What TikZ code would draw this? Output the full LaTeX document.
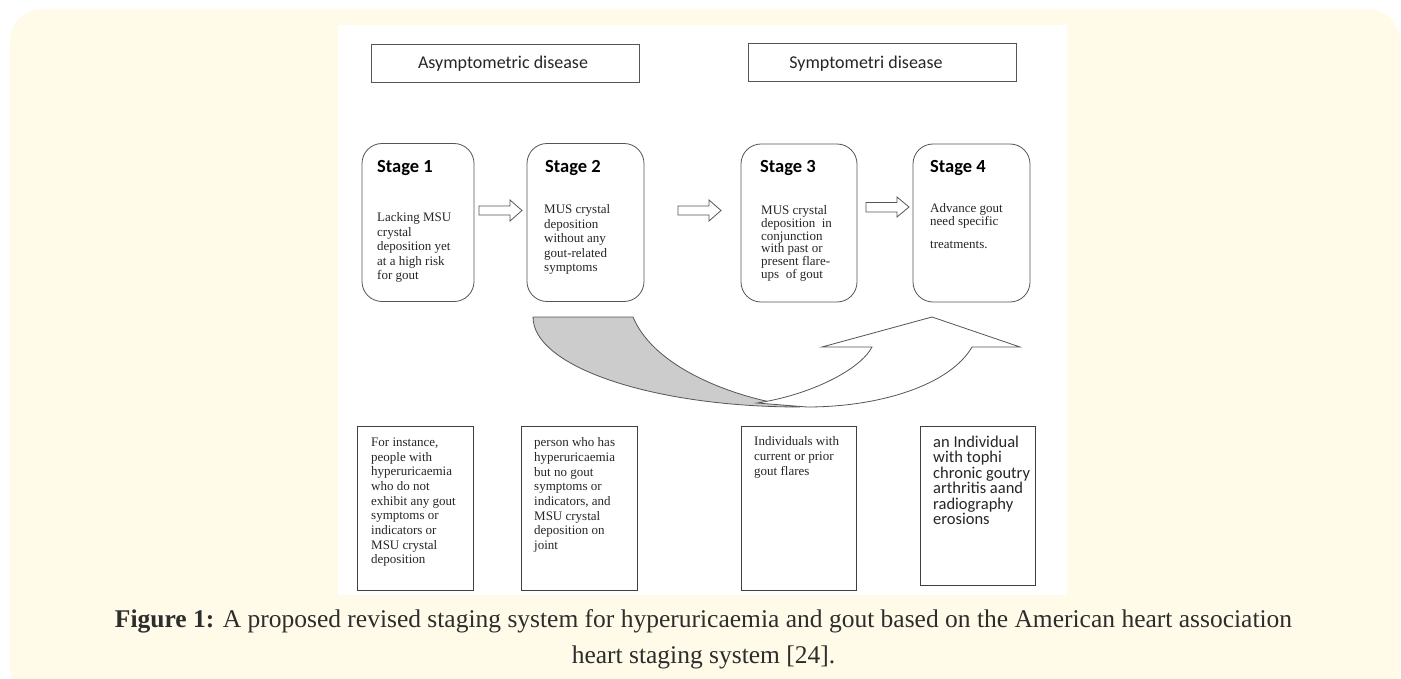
\documentclass[tikz,border=0pt]{standalone}
\usepackage{fontspec}
\setmainfont{Liberation Serif}
\newfontfamily\carl{Carlito}
\definecolor{cream}{RGB}{255,251,232}
\definecolor{edge}{RGB}{85,85,85}
\definecolor{capt}{RGB}{45,45,45}
\definecolor{shade}{RGB}{204,204,204}
\begin{document}
\begin{tikzpicture}[x=1pt,y=-1pt,
  hdrbox/.style={draw=edge, line width=0.9pt, fill=white, minimum width=268, minimum height=38, inner sep=0},
  stagebox/.style={draw=edge, line width=0.8pt, rounded corners=20pt, minimum height=158, inner sep=0},
  notebox/.style={draw=black!75, line width=1pt, minimum width=116, inner sep=0},
  hdrtxt/.style={font=\carl\fontsize{18}{22}\selectfont, anchor=base, inner sep=0, text=black!85},
  titletxt/.style={font=\carl\fontsize{18.5}{22}\selectfont\bfseries, anchor=base west, inner sep=0},
  bodytxt/.style={font=\fontsize{13}{14.5}\selectfont, align=left, anchor=north west, inner sep=0, text=black!85},
  notetxt/.style={font=\fontsize{13}{14.7}\selectfont, align=left, anchor=north west, inner sep=0, text=black!85},
  blockarrow/.style={draw=edge, line width=0.8pt, fill=white, line join=miter},
  bandback/.style={draw=edge, line width=0.8pt, fill=shade},
  bandfront/.style={draw=edge, line width=0.8pt, fill=white},
  capttxt/.style={font=\fontsize{25.5}{30}\selectfont, anchor=base, inner sep=0, text=capt}]
\useasboundingbox (0,0) rectangle (1401,679);
% panel and figure area
\fill[cream, rounded corners=32pt] (10,9) rectangle (1400,700);
\fill[white] (338,25) rectangle (1067,595);

% headers
\node[hdrbox] (h1) at (505,63) {};
\node[hdrbox] (h2) at (882,62.5) {};
\node[hdrtxt] (h1t) at (503,69) {Asymptometric disease};
\node[hdrtxt] (h2t) at (866,69) {Symptometri disease};

% stage boxes
\node[stagebox, minimum width=112] (s1) at (418,222.5) {};
\node[stagebox, minimum width=117] (s2) at (585.5,222.5) {};
\node[stagebox, minimum width=116] (s3) at (799,223) {};
\node[stagebox, minimum width=117] (s4) at (971.5,223) {};

\node[titletxt] (s1t) at (377,173) {Stage 1};
\node[titletxt] (s2t) at (545,173) {Stage 2};
\node[titletxt] (s3t) at (760,173) {Stage 3};
\node[titletxt] (s4t) at (930,173) {Stage 4};

\node[bodytxt] (s1b) at (377,212.5) {Lacking MSU\\crystal\\deposition yet\\at a high risk\\for gout};
\node[bodytxt] (s2b) at (544,204.5) {MUS crystal\\deposition\\without any\\gout-related\\symptoms};
\node[bodytxt, font=\fontsize{13}{12.9}\selectfont] (s3b) at (761,205) {MUS crystal\\deposition\ \ in\\conjunction\\with past or\\present flare-\\ups\ \ of gout};
\node[bodytxt, font=\fontsize{13}{11.5}\selectfont] (s4b) at (930,203) {Advance gout\\need specific\\[12pt]treatments.};

% block arrows between stages
\draw[blockarrow] (479,206) -- (510,206) -- (510,200) -- (522,210.5) -- (510,221) -- (510,215) -- (479,215) -- cycle;
\draw[blockarrow] (678,206) -- (709,206) -- (709,200) -- (721,210.5) -- (709,221) -- (709,215) -- (678,215) -- cycle;
\draw[blockarrow] (866,202.5) -- (897,202.5) -- (897,197) -- (909,207) -- (897,217) -- (897,212) -- (866,212) -- cycle;

% big curved up arrow
\draw[bandback] (533,317) -- (633,317) .. controls (655,370) and (740,400) .. (800,407)
  .. controls (652.6,407) and (533,366.7) .. (533,317) -- cycle;
\draw[bandfront] (757,403) .. controls (810,395) and (860,370) .. (872,347)
  -- (822,347) -- (932,317) -- (1020,347) -- (972,347)
  .. controls (950,385) and (880,407) .. (807,407) -- cycle;

% note boxes
\node[notebox, minimum height=164] (n1) at (415,508) {};
\node[notebox, minimum height=164] (n2) at (579,508) {};
\node[notebox, minimum width=115, minimum height=164] (n3) at (798.5,508) {};
\node[notebox, minimum width=115, minimum height=159] (n4) at (977.5,505.5) {};

\node[notetxt] (n1t) at (371,437.5) {For instance,\\people with\\hyperuricaemia\\who do not\\exhibit any gout\\symptoms or\\indicators or\\MSU crystal\\deposition};
\node[notetxt] (n2t) at (534,437.5) {person who has\\hyperuricaemia\\but no gout\\symptoms or\\indicators, and\\MSU crystal\\deposition on\\joint};
\node[notetxt] (n3t) at (754,436.5) {Individuals with\\current or prior\\gout flares};
\node[notetxt, font=\carl\fontsize{16.5}{15.5}\selectfont] (n4t) at (933,435.5) {an Individual\\with tophi\\chronic goutry\\arthritis aand\\radiography\\erosions};

% caption
\node[capttxt] (c1) at (703.5,627) {\textbf{Figure 1:} A proposed revised staging system for hyperuricaemia and gout based on the American heart association};
\node[capttxt] (c2) at (703.5,663) {heart staging system [24].};
\end{tikzpicture}
\end{document}
